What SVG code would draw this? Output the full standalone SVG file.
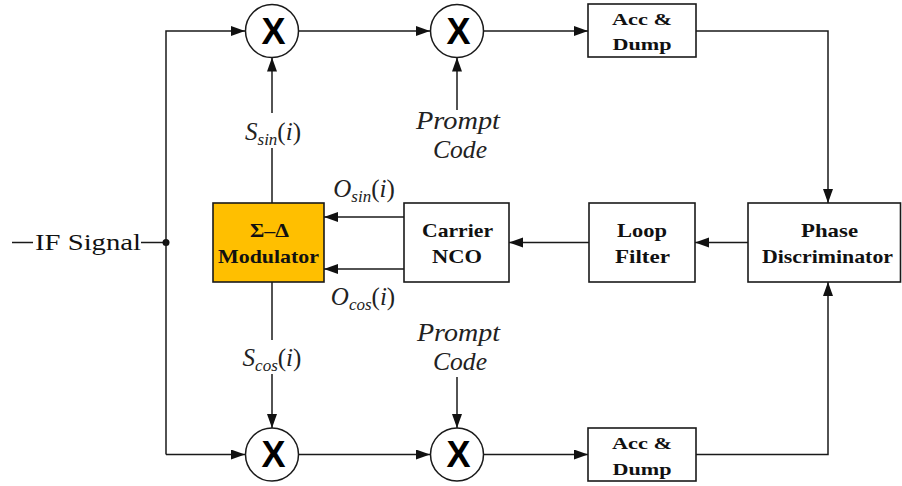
<svg xmlns="http://www.w3.org/2000/svg" width="902" height="486" viewBox="0 0 902 486">
<style>
.ln{fill:none;stroke:#1a1a1a;stroke-width:1.5}
.bx{fill:#fff;stroke:#1a1a1a;stroke-width:1.6}
.mix{fill:#fff;stroke:#1a1a1a;stroke-width:1.5}
.x{font-weight:bold;font-size:36px;text-anchor:middle;fill:#000}
.b{font-weight:bold;font-size:19px;text-anchor:middle;fill:#111}
.bs{font-weight:bold;font-size:17px;text-anchor:middle;fill:#111}
.m{font-style:italic;font-size:25px;text-anchor:middle;fill:#222}
.sub{font-size:17px}
.up{font-style:normal}
.r{font-size:24px;fill:#111}
</style>
<defs>
<marker id="ah" markerUnits="userSpaceOnUse" markerWidth="15" markerHeight="11" refX="14" refY="5" orient="auto">
<path d="M0,0 L14,5 L0,10 Z" fill="#111"/>
</marker>
</defs>
<g id="connectors">
<line class="ln" x1="12" y1="242.5" x2="33" y2="242.5"/>
<line class="ln" x1="141" y1="242.5" x2="166" y2="242.5"/>
<circle cx="166" cy="242.5" r="3.5" fill="#111"/>
<polyline class="ln" points="166,454.5 166,31 245,31" marker-end="url(#ah)"/>
<line class="ln" x1="166" y1="454.5" x2="245" y2="454.5" marker-end="url(#ah)"/>
<line class="ln" x1="298.5" y1="31" x2="430" y2="31" marker-end="url(#ah)"/>
<line class="ln" x1="483.5" y1="31" x2="588" y2="31" marker-end="url(#ah)"/>
<line class="ln" x1="298.5" y1="454.5" x2="430" y2="454.5" marker-end="url(#ah)"/>
<line class="ln" x1="483.5" y1="454.5" x2="588" y2="454.5" marker-end="url(#ah)"/>
<polyline class="ln" points="696,31 828,31 828,203" marker-end="url(#ah)"/>
<polyline class="ln" points="696,454.5 828,454.5 828,282" marker-end="url(#ah)"/>
<line class="ln" x1="748" y1="242.5" x2="695" y2="242.5" marker-end="url(#ah)"/>
<line class="ln" x1="589" y1="242.5" x2="509" y2="242.5" marker-end="url(#ah)"/>
<line class="ln" x1="404" y1="217" x2="324" y2="217" marker-end="url(#ah)"/>
<line class="ln" x1="404" y1="269" x2="324" y2="269" marker-end="url(#ah)"/>
<line class="ln" x1="272" y1="203" x2="272" y2="148"/>
<line class="ln" x1="272" y1="113" x2="272" y2="57.5" marker-end="url(#ah)"/>
<line class="ln" x1="272" y1="282" x2="272" y2="340"/>
<line class="ln" x1="272" y1="374" x2="272" y2="428" marker-end="url(#ah)"/>
<line class="ln" x1="457" y1="110" x2="457" y2="57.5" marker-end="url(#ah)"/>
<line class="ln" x1="457" y1="377" x2="457" y2="428" marker-end="url(#ah)"/>
</g>
<g font-family="Liberation Serif, Times New Roman, DejaVu Serif, serif">
<g id="if-signal"><text class="r" x="35" y="249.5" textLength="106" lengthAdjust="spacingAndGlyphs">IF Signal</text></g>
<g id="mult-top-1"><circle class="mix" cx="272" cy="31" r="26.5"/><text class="x" font-family="Liberation Sans, Arial, sans-serif" x="273.5" y="43.5">X</text></g>
<g id="mult-top-2"><circle class="mix" cx="457" cy="31" r="26.5"/><text class="x" font-family="Liberation Sans, Arial, sans-serif" x="458.5" y="43.5">X</text></g>
<g id="mult-bot-1"><circle class="mix" cx="272" cy="454.5" r="26.5"/><text class="x" font-family="Liberation Sans, Arial, sans-serif" x="273.5" y="467">X</text></g>
<g id="mult-bot-2"><circle class="mix" cx="457" cy="454.5" r="26.5"/><text class="x" font-family="Liberation Sans, Arial, sans-serif" x="458.5" y="467">X</text></g>
<g id="acc-top"><rect class="bx" x="588" y="4" width="108" height="53"/>
<text class="bs" x="642" y="25" textLength="60" lengthAdjust="spacingAndGlyphs">Acc &amp;</text>
<text class="bs" x="642" y="50" textLength="59" lengthAdjust="spacingAndGlyphs">Dump</text></g>
<g id="acc-bot"><rect class="bx" x="588" y="428" width="108" height="53"/>
<text class="bs" x="642" y="448.5" textLength="60" lengthAdjust="spacingAndGlyphs">Acc &amp;</text>
<text class="bs" x="642" y="474.5" textLength="59" lengthAdjust="spacingAndGlyphs">Dump</text></g>
<g id="phase-disc"><rect class="bx" x="748" y="203" width="152.5" height="79"/>
<text class="b" x="829.5" y="237" textLength="57" lengthAdjust="spacingAndGlyphs">Phase</text>
<text class="b" x="827.5" y="263" textLength="131" lengthAdjust="spacingAndGlyphs">Discriminator</text></g>
<g id="loop-filter"><rect class="bx" x="589" y="203" width="106" height="79"/>
<text class="b" x="642" y="237" textLength="50" lengthAdjust="spacingAndGlyphs">Loop</text>
<text class="b" x="642.5" y="263" textLength="55" lengthAdjust="spacingAndGlyphs">Filter</text></g>
<g id="carrier-nco"><rect class="bx" x="404" y="203" width="105" height="79"/>
<text class="b" x="457.5" y="237" textLength="71" lengthAdjust="spacingAndGlyphs">Carrier</text>
<text class="b" x="457" y="263" textLength="50" lengthAdjust="spacingAndGlyphs">NCO</text></g>
<g id="modulator"><rect x="213" y="203" width="111" height="79" fill="#FFBF00" stroke="#1a1a1a" stroke-width="1.6"/>
<text class="b" x="269.5" y="237" textLength="39" lengthAdjust="spacingAndGlyphs">Σ–Δ</text>
<text class="b" x="268.5" y="263" textLength="101" lengthAdjust="spacingAndGlyphs">Modulator</text></g>
<g id="labels">
<text class="m" x="273" y="140">S<tspan class="sub" dy="5">sin</tspan><tspan dy="-5" class="up">(</tspan>i<tspan class="up">)</tspan></text>
<text class="m" x="272" y="366">S<tspan class="sub" dy="5">cos</tspan><tspan dy="-5" class="up">(</tspan>i<tspan class="up">)</tspan></text>
<text class="m" x="364" y="197">O<tspan class="sub" dy="5">sin</tspan><tspan dy="-5" class="up">(</tspan>i<tspan class="up">)</tspan></text>
<text class="m" x="363" y="305">O<tspan class="sub" dy="5">cos</tspan><tspan dy="-5" class="up">(</tspan>i<tspan class="up">)</tspan></text>
<text class="m" x="458" y="129" textLength="84" lengthAdjust="spacingAndGlyphs">Prompt</text>
<text class="m" x="460" y="158" textLength="54" lengthAdjust="spacingAndGlyphs">Code</text>
<text class="m" x="458.5" y="341" textLength="83" lengthAdjust="spacingAndGlyphs">Prompt</text>
<text class="m" x="460" y="370" textLength="54" lengthAdjust="spacingAndGlyphs">Code</text>
</g>
</g>
</svg>
